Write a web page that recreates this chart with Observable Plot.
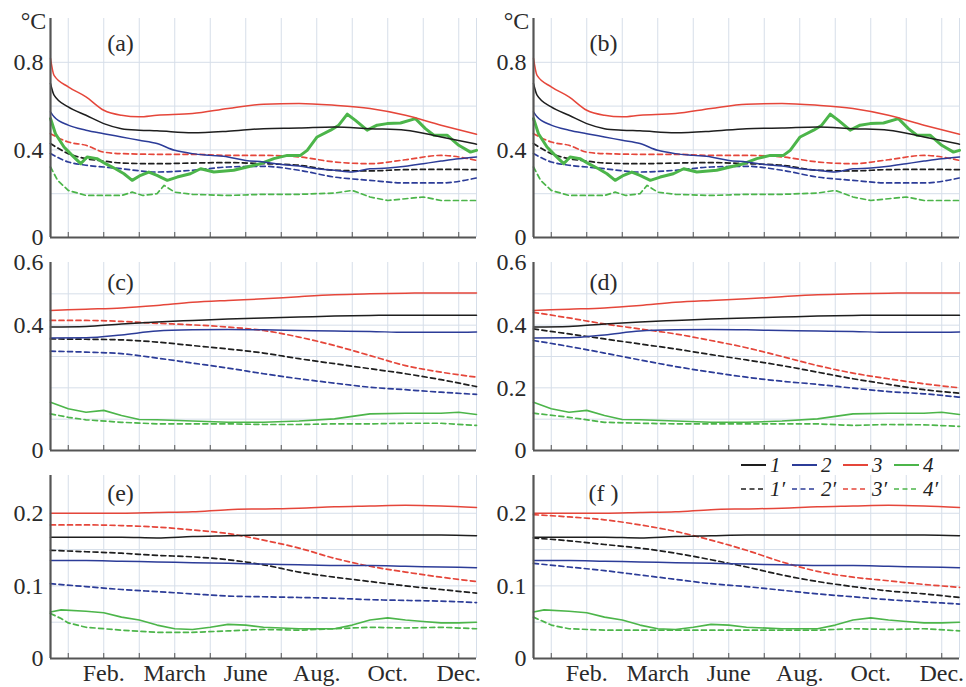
<!DOCTYPE html>
<html><head><meta charset="utf-8">
<script src="https://cdn.jsdelivr.net/npm/d3@7"></script>
<script src="https://cdn.jsdelivr.net/npm/@observablehq/plot@0.6"></script>
<style>
body{margin:0;background:#fff;}
#wrap{position:relative;width:966px;height:687px;overflow:hidden;font-family:"Liberation Serif",serif;}
#wrap svg text{font-family:"Liberation Serif",serif;}
.legend{position:absolute;left:741px;top:453px;font-family:"Liberation Serif",serif;font-style:italic;font-size:21px;color:#222;}
.legend .row{display:flex;height:24px;line-height:24px;}
.legend .item{display:flex;align-items:center;width:51px;}
.legend .item span{margin-left:4px;display:inline-block;height:24px;line-height:24px;}
</style>
</head><body><div id="wrap"></div>
<script>
// ---------- x axis ----------
const xGrid = [0.5,1.5,2.5,3.5,4.5,5.5,6.5,7.5,8.5,9.5,10.5,11.5];
const xLabelPos = [1.5,3.5,5.5,7.5,9.5,11.5];
const xLabels = ["Feb.","March","June","Aug.","Oct.","Dec."];

// ---------- panel (a)/(b) ----------
const ab_s1 = [[0,0.703],[0.1,0.65],[0.5,0.596],[1,0.558],[1.5,0.52],[2,0.497],[2.5,0.49],[3,0.487],[4,0.478],[5,0.485],[6,0.497],[7,0.5],[8,0.505],[9,0.497],[10,0.49],[11,0.459],[12,0.426]];
const ab_s2 = [[0,0.574],[0.1,0.551],[0.5,0.513],[1,0.49],[1.5,0.474],[2,0.459],[2.5,0.444],[3,0.429],[3.5,0.398],[4,0.383],[4.5,0.375],[5,0.368],[5.5,0.352],[6,0.345],[6.5,0.333],[7,0.326],[7.5,0.314],[8,0.307],[8.5,0.299],[9,0.314],[9.5,0.317],[10,0.325],[10.5,0.337],[11,0.349],[11.5,0.36],[12,0.368]];
const ab_s3 = [[0,0.818],[0.1,0.74],[0.5,0.688],[1,0.642],[1.5,0.581],[2,0.558],[2.5,0.551],[3,0.558],[4,0.566],[5,0.589],[6,0.609],[7,0.612],[8,0.604],[9,0.589],[10,0.558],[11,0.513],[12,0.471]];
const ab_s4 = [[0,0.543],[0.14,0.474],[0.38,0.413],[0.61,0.375],[0.85,0.337],[1.03,0.368],[1.31,0.36],[1.55,0.337],[1.83,0.314],[2.07,0.291],[2.3,0.261],[2.54,0.284],[2.77,0.299],[3,0.284],[3.29,0.261],[3.57,0.276],[3.94,0.291],[4.23,0.314],[4.6,0.299],[5.16,0.307],[5.54,0.322],[5.92,0.337],[6.29,0.36],[6.67,0.375],[7.04,0.375],[7.23,0.398],[7.51,0.459],[7.89,0.49],[8.12,0.513],[8.36,0.563],[8.59,0.535],[8.92,0.49],[9.2,0.513],[9.48,0.52],[9.86,0.523],[10.28,0.543],[10.56,0.497],[10.8,0.467],[11.17,0.467],[11.5,0.421],[11.83,0.39],[12,0.398]];
const ab_d1 = [[0,0.429],[0.5,0.383],[1,0.36],[1.5,0.349],[2,0.34],[3,0.337],[4,0.34],[5,0.342],[6,0.337],[7,0.33],[8,0.307],[9,0.304],[10,0.31],[11,0.311],[12,0.31]];
const ab_d2 = [[0,0.383],[0.5,0.345],[1,0.33],[1.5,0.322],[2,0.314],[3,0.299],[4,0.307],[5,0.322],[6,0.325],[7,0.307],[8,0.276],[9,0.261],[10,0.249],[11,0.249],[12,0.272]];
const ab_d3 = [[0,0.474],[0.5,0.436],[1,0.421],[1.5,0.39],[2,0.383],[3,0.38],[4,0.38],[5,0.375],[6,0.375],[7,0.368],[8,0.345],[9,0.337],[10,0.355],[11,0.375],[12,0.352]];
const ab_d4 = [[0,0.322],[0.2,0.261],[0.5,0.215],[1,0.192],[2,0.192],[2.3,0.207],[2.6,0.192],[3,0.2],[3.2,0.238],[3.5,0.207],[4,0.197],[5,0.192],[6,0.197],[7,0.197],[8,0.203],[8.5,0.215],[9,0.185],[9.5,0.169],[10,0.177],[10.5,0.185],[11,0.169],[12,0.169]];

// ---------- panel (c)/(d) ----------
const cd_s1 = [[0,0.394],[1,0.396],[2,0.404],[3,0.41],[4,0.415],[5,0.42],[6,0.423],[7,0.426],[8,0.429],[9,0.431],[10,0.432],[11,0.432],[12,0.432]];
const cd_s2 = [[0,0.359],[1,0.36],[2,0.369],[3,0.381],[4,0.385],[5,0.386],[6,0.385],[7,0.383],[8,0.381],[9,0.38],[10,0.377],[11,0.377],[12,0.378]];
const cd_s3 = [[0,0.447],[1,0.451],[2,0.455],[3,0.463],[4,0.473],[5,0.479],[6,0.484],[7,0.491],[8,0.497],[9,0.5],[10,0.502],[11,0.503],[12,0.503]];
const cd_s4 = [[0,0.154],[0.5,0.133],[1,0.122],[1.5,0.128],[2,0.112],[2.5,0.099],[3,0.098],[4,0.094],[5,0.09],[6,0.09],[7,0.094],[8,0.101],[8.5,0.109],[9,0.117],[10,0.119],[11,0.119],[11.5,0.122],[12,0.115]];
const c_d1 = [[0,0.356],[1,0.355],[2,0.353],[3,0.346],[4,0.335],[5,0.324],[6,0.311],[7,0.293],[8,0.277],[9,0.261],[10,0.245],[11,0.226],[12,0.204]];
const c_d2 = [[0,0.317],[1,0.314],[2,0.309],[3,0.295],[4,0.279],[5,0.263],[6,0.245],[7,0.229],[8,0.215],[9,0.202],[10,0.194],[11,0.186],[12,0.179]];
const c_d3 = [[0,0.415],[1,0.415],[2,0.412],[3,0.406],[4,0.401],[5,0.394],[6,0.383],[7,0.362],[8,0.335],[9,0.303],[10,0.271],[11,0.25],[12,0.234]];
const c_d4 = [[0,0.117],[0.5,0.106],[1,0.098],[2,0.09],[3,0.085],[4,0.085],[5,0.085],[6,0.083],[7,0.083],[8,0.085],[9,0.085],[10,0.087],[11,0.087],[12,0.08]];
const d_d1 = [[0,0.388],[1,0.372],[2,0.356],[3,0.34],[4,0.324],[5,0.306],[6,0.289],[7,0.271],[8,0.25],[9,0.229],[10,0.211],[11,0.194],[12,0.183]];
const d_d2 = [[0,0.351],[1,0.332],[2,0.311],[3,0.289],[4,0.268],[5,0.25],[6,0.234],[7,0.221],[8,0.211],[9,0.199],[10,0.188],[11,0.181],[12,0.17]];
const d_d3 = [[0,0.441],[1,0.423],[2,0.404],[3,0.388],[4,0.372],[5,0.351],[6,0.328],[7,0.3],[8,0.271],[9,0.247],[10,0.229],[11,0.213],[12,0.2]];
const d_d4 = [[0,0.119],[1,0.106],[2,0.09],[3,0.087],[4,0.085],[5,0.085],[6,0.085],[7,0.085],[8,0.085],[9,0.08],[10,0.083],[11,0.082],[12,0.077]];

// ---------- panel (e)/(f) ----------
const ef_s1 = [[0,0.167],[1,0.167],[2,0.167],[3,0.166],[4,0.168],[5,0.169],[6,0.17],[7,0.17],[8,0.17],[9,0.17],[10,0.17],[11,0.17],[12,0.169]];
const ef_s2 = [[0,0.135],[1,0.135],[2,0.134],[3,0.133],[4,0.132],[5,0.131],[6,0.13],[7,0.129],[8,0.128],[9,0.128],[10,0.127],[11,0.126],[12,0.125]];
const ef_s3 = [[0,0.2],[1,0.2],[2,0.2],[3,0.201],[4,0.202],[5,0.205],[6,0.206],[7,0.207],[8,0.209],[9,0.21],[10,0.211],[11,0.21],[12,0.208]];
const ef_s4 = [[0,0.064],[0.3,0.067],[1,0.065],[1.5,0.063],[2,0.057],[2.5,0.053],[3,0.046],[3.5,0.041],[4,0.04],[4.5,0.043],[5,0.047],[5.5,0.046],[6,0.043],[7,0.041],[8,0.041],[8.5,0.046],[9,0.053],[9.5,0.056],[10,0.053],[10.5,0.051],[11,0.049],[11.5,0.049],[12,0.05]];
const e_d1 = [[0,0.149],[1,0.147],[2,0.145],[3,0.142],[4,0.14],[5,0.136],[6,0.129],[7,0.119],[8,0.112],[9,0.106],[10,0.1],[11,0.095],[12,0.09]];
const e_d2 = [[0,0.103],[1,0.099],[2,0.095],[3,0.092],[4,0.089],[5,0.086],[6,0.085],[7,0.084],[8,0.083],[9,0.081],[10,0.08],[11,0.079],[12,0.077]];
const e_d3 = [[0,0.184],[1,0.184],[2,0.183],[3,0.181],[4,0.177],[5,0.172],[6,0.163],[7,0.152],[8,0.138],[9,0.127],[10,0.119],[11,0.112],[12,0.106]];
const e_d4 = [[0,0.062],[0.3,0.055],[0.5,0.049],[1,0.043],[2,0.039],[3,0.036],[4,0.036],[5,0.038],[6,0.04],[7,0.039],[8,0.041],[9,0.043],[10,0.042],[11,0.043],[12,0.041]];
const f_d1 = [[0,0.166],[1,0.162],[2,0.157],[3,0.152],[4,0.145],[5,0.136],[6,0.126],[7,0.115],[8,0.106],[9,0.099],[10,0.093],[11,0.089],[12,0.084]];
const f_d2 = [[0,0.131],[1,0.126],[2,0.121],[3,0.115],[4,0.109],[5,0.103],[6,0.099],[7,0.094],[8,0.089],[9,0.085],[10,0.081],[11,0.078],[12,0.075]];
const f_d3 = [[0,0.198],[1,0.195],[2,0.191],[3,0.184],[4,0.175],[5,0.163],[6,0.149],[7,0.133],[8,0.12],[9,0.112],[10,0.107],[11,0.102],[12,0.098]];
const f_d4 = [[0,0.057],[0.5,0.046],[1,0.041],[2,0.039],[3,0.039],[4,0.039],[5,0.039],[6,0.039],[7,0.039],[8,0.039],[9,0.041],[10,0.04],[11,0.041],[12,0.038]];

// ---------- styling ----------
const colors = {"1":"#1e1e1e","2":"#2c3c98","3":"#e5463a","4":"#4cb54a"};
const gridColor = "#d6dee9";
const axisColor = "#555";
const textColor = "#2a2a2a";
const font = "Liberation Serif";
const fs = 24;
const legendKeys = ["1","2","3","4"];

function seriesSet(s1,s2,s3,s4,d1,d2,d3,d4,greenW){
  return [
    {data:d1,k:"1",dash:true},{data:d2,k:"2",dash:true},{data:d3,k:"3",dash:true},{data:d4,k:"4",dash:true},
    {data:s4,k:"4",dash:false,w:greenW},{data:s2,k:"2",dash:false},{data:s1,k:"1",dash:false},{data:s3,k:"3",dash:false}
  ];
}

const rowA = {top:0, mt:18, mb:4, h:219, domain:[0,1.0], grid:[0.2,0.4,0.6,0.8], showX:false};
const rowC = {top:241, mt:21, mb:6, h:188, domain:[0,0.6], grid:[0.1,0.2,0.3,0.4,0.5], showX:false};
const rowE = {top:456, mt:19, mb:29, h:183, domain:[0,0.252], grid:[0.05,0.1,0.15,0.2], showX:true};
const colL = {left:0, ml:50, mr:8};
const colR = {left:483, ml:50, mr:7};

const panels = [
  {label:"(a)", row:rowA, col:colL, yTicks:[0,0.4,0.8], unit:true, dy:25, series:seriesSet(ab_s1,ab_s2,ab_s3,ab_s4,ab_d1,ab_d2,ab_d3,ab_d4,3)},
  {label:"(b)", row:rowA, col:colR, yTicks:[0,0.4,0.8], unit:true, dy:25, series:seriesSet(ab_s1,ab_s2,ab_s3,ab_s4,ab_d1,ab_d2,ab_d3,ab_d4,3)},
  {label:"(c)", row:rowC, col:colL, yTicks:[0,0.4,0.6], dy:20, series:seriesSet(cd_s1,cd_s2,cd_s3,cd_s4,c_d1,c_d2,c_d3,c_d4,1.6)},
  {label:"(d)", row:rowC, col:colR, yTicks:[0,0.2,0.4,0.6], dy:20, series:seriesSet(cd_s1,cd_s2,cd_s3,cd_s4,d_d1,d_d2,d_d3,d_d4,1.6)},
  {label:"(e)", row:rowE, col:colL, yTicks:[0,0.1,0.2], dy:18, series:seriesSet(ef_s1,ef_s2,ef_s3,ef_s4,e_d1,e_d2,e_d3,e_d4,1.6)},
  {label:"(f )", row:rowE, col:colR, yTicks:[0,0.1,0.2], dy:18, series:seriesSet(ef_s1,ef_s2,ef_s3,ef_s4,f_d1,f_d2,f_d3,f_d4,1.6)}
];

const wrap = document.getElementById("wrap");
for (const p of panels) {
  const r = p.row, c = p.col;
  const width = c.ml + 426 + c.mr;
  const height = r.mt + r.h + r.mb;
  const marks = [
    Plot.ruleX([...xGrid, 12], {stroke:gridColor, strokeWidth:1}),
    Plot.ruleY(r.grid, {stroke:gridColor, strokeWidth:1}),
    ...p.series.map(s => Plot.line(s.data, {
      x: d => d[0], y: d => d[1], stroke: colors[s.k],
      strokeWidth: s.w || (s.dash ? 1.7 : 1.5),
      strokeDasharray: s.dash ? "5,3.5" : undefined,
      curve: s.k === "4" ? "linear" : "monotone-x"
    })),
    Plot.ruleX(xGrid, {y1:0, y2:0, insetTop:-5, stroke:axisColor, strokeWidth:1}),
    Plot.ruleY([0], {stroke:axisColor, strokeWidth:2.2}),
    Plot.ruleX([0], {stroke:axisColor, strokeWidth:2.2}),
    Plot.axisY({ticks:p.yTicks, tickSize:0, tickPadding:7, label:null, tickFormat:d=>String(d), fontSize:fs, fontFamily:font, fill:textColor}),
    Plot.text([p.label], {text:d=>d, frameAnchor:"top-left", dx:70, dy:p.dy, fontSize:fs, fontFamily:font, fill:textColor, textAnchor:"middle", lineAnchor:"middle"})
  ];
  if (r.showX) marks.push(Plot.axisX({ticks:xLabelPos, tickFormat:d=>xLabels[xLabelPos.indexOf(d)], tickSize:0, tickPadding:5, label:null, fontSize:fs, fontFamily:font, fill:textColor}));
  if (p.unit) marks.push(Plot.text(["°C"], {text:d=>d, frameAnchor:"top-left", dx:-17, dy:3, fontSize:fs, fontFamily:font, fill:textColor, textAnchor:"middle", lineAnchor:"middle"}));
  const svg = Plot.plot({
    width, height,
    marginLeft:c.ml, marginRight:c.mr, marginTop:r.mt, marginBottom:r.mb,
    style:{fontFamily:"Liberation Serif, serif", fontSize:fs + "px", background:"transparent", overflow:"visible"},
    x:{domain:[0,12], axis:null},
    y:{domain:r.domain, axis:null},
    marks
  });
  svg.style.position = "absolute";
  svg.style.left = c.left + "px";
  svg.style.top = r.top + "px";
  wrap.appendChild(svg);
}

// ---------- legend ----------
const legend = d3.select(wrap).append("div").attr("class","legend");
for (const dashed of [false, true]) {
  const row = legend.append("div").attr("class","row");
  for (const k of legendKeys) {
    const it = row.append("div").attr("class","item");
    const s = it.append("svg").attr("width",25).attr("height",10);
    s.append("line").attr("x1",0).attr("x2",25).attr("y1",5).attr("y2",5)
      .attr("stroke",colors[k]).attr("stroke-width",dashed?1.7:2)
      .attr("stroke-dasharray",dashed?"5,3.5":null);
    it.append("span").text(dashed ? k + "\u2032" : k);
  }
}
</script></body></html>
